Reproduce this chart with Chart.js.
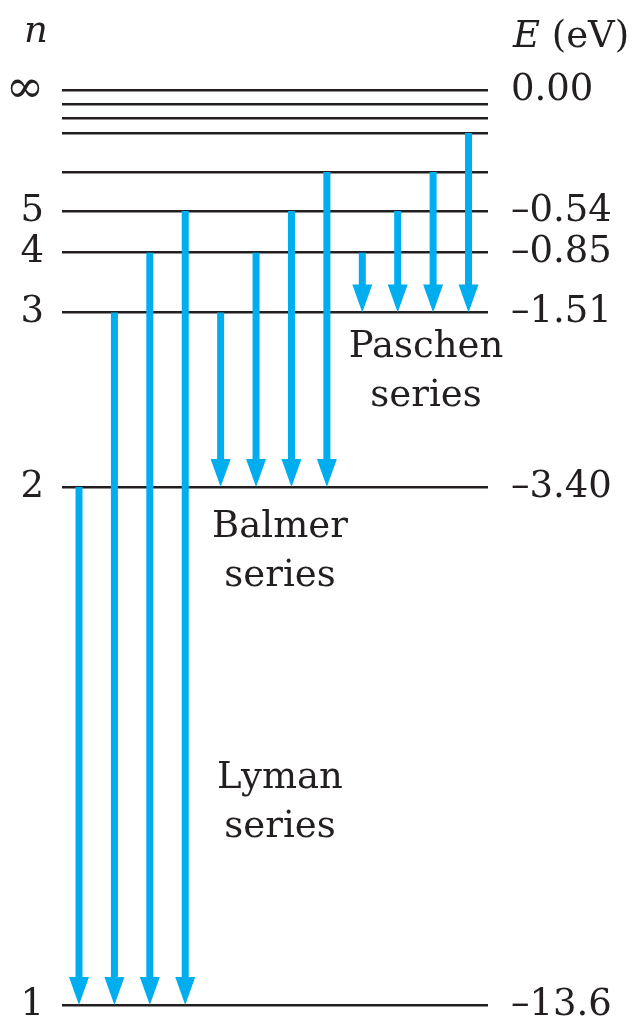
<!DOCTYPE html>
<html>
<head>
<meta charset="utf-8">
<script src="https://cdn.jsdelivr.net/npm/chart.js@4.4.1/dist/chart.umd.min.js"></script>
<style>
  html, body { margin: 0; padding: 0; background: #fff; }
</style>
</head>
<body>
<canvas id="levels" width="641" height="1024"></canvas>
<script>
// energy levels of hydrogen, n = 1..9 and infinity
const levelN = ["1", "2", "3", "4", "5", "", "", "", "", "∞"];
const levelE = [-13.6, -3.40, -1.51, -0.85, -0.54, -0.38, -0.28, -0.21, -0.17, 0.00];
const energyLabels = ["–13.6", "–3.40", "–1.51", "–0.85", "–0.54", "", "", "", "", "0.00"];

// transitions: each series drops to one lower level
const seriesNames = ["Lyman", "Balmer", "Paschen"];
const seriesLower = [1, 2, 3];
const seriesUpper = [[2, 3, 4, 5], [3, 4, 5, 6], [4, 5, 6, 7]];

const ink = "#231f20";
const arrowColor = "#00aeef";
const serif = "'DejaVu Serif', serif";

// schematic (non-linear) energy axis: piecewise between levels
class LevelScale extends Chart.LinearScale {
  levelDecimal(v) {
    const e = this.options.stops, f = this.options.fractions;
    if (v <= e[0]) return f[0];
    for (let i = 1; i < e.length; i++) {
      if (v <= e[i]) {
        return f[i - 1] + (v - e[i - 1]) / (e[i] - e[i - 1]) * (f[i] - f[i - 1]);
      }
    }
    return f[f.length - 1];
  }
  getPixelForValue(value) {
    return this.getPixelForDecimal(this.levelDecimal(value));
  }
  getValueForPixel(pixel) {
    const d = this.getDecimalForPixel(pixel);
    const e = this.options.stops, f = this.options.fractions;
    for (let i = 1; i < f.length; i++) {
      if (d <= f[i]) return e[i - 1] + (d - f[i - 1]) / (f[i] - f[i - 1]) * (e[i] - e[i - 1]);
    }
    return e[e.length - 1];
  }
}
LevelScale.id = "level";
LevelScale.defaults = Chart.LinearScale.defaults;
Chart.register(LevelScale);

// one dataset per arrow (upper level -> lower level)
const datasets = [];
let col = 0;
seriesNames.forEach((name, s) => {
  seriesUpper[s].forEach((up) => {
    datasets.push({
      label: name + " " + up + "→" + seriesLower[s],
      data: [
        { x: col, y: levelE[up - 1] },
        { x: col, y: levelE[seriesLower[s] - 1] },
      ],
      borderColor: arrowColor,
      showLine: false,
      pointRadius: 0,
    });
    col++;
  });
});

const arrowPlugin = {
  id: "arrows",
  afterDatasetsDraw(chart) {
    const ctx = chart.ctx;
    chart.data.datasets.forEach((ds, i) => {
      const pts = chart.getDatasetMeta(i).data;
      const x = pts[0].x, top = pts[0].y, tip = pts[1].y;
      const headLen = 28, headW = 20, shaft = 7;
      ctx.save();
      ctx.fillStyle = ds.borderColor;
      ctx.fillRect(x - shaft / 2, top, shaft, tip - headLen - top + 1);
      ctx.beginPath();
      ctx.moveTo(x - headW / 2, tip - headLen);
      ctx.lineTo(x + headW / 2, tip - headLen);
      ctx.lineTo(x, tip);
      ctx.closePath();
      ctx.fill();
      ctx.restore();
    });
  },
};

const textPlugin = {
  id: "texts",
  afterDraw(chart) {
    const ctx = chart.ctx;
    ctx.save();
    ctx.fillStyle = ink;
    ctx.textBaseline = "alphabetic";
    // headers
    ctx.textAlign = "left";
    ctx.font = "italic 37px " + serif;
    ctx.fillText("n", 24, 42);
    ctx.fillText("E", 513, 47);
    const eW = ctx.measureText("E ").width;
    ctx.font = "37px " + serif;
    ctx.fillText("(eV)", 513 + eW, 47);
    // series names
    ctx.textAlign = "center";
    const spots = [
      { x: 280, y: 788 },
      { x: 280, y: 537 },
      { x: 426, y: 357 },
    ];
    seriesNames.forEach((name, s) => {
      ctx.fillText(name, spots[s].x, spots[s].y);
      ctx.fillText("series", spots[s].x, spots[s].y + 49);
    });
    ctx.restore();
  },
};

const levelScale = (position, labels, pad, width, grid) => ({
  type: "level",
  position,
  min: levelE[0],
  max: levelE[levelE.length - 1],
  stops: levelE,
  fractions: [0, 0.5661, 0.7568, 0.8222, 0.8678, 0.9104, 0.953, 0.9694, 0.9847, 1],
  z: 1,
  border: { display: false },
  grid: grid
    ? { color: ink, lineWidth: 2.5, drawTicks: false }
    : { display: false, drawTicks: false },
  ticks: {
    autoSkip: false,
    padding: pad,
    color: ink,
    // the infinity sign is set a little larger, as in the figure
    font: (c) => ({ family: serif, size: labels[c.index] === "∞" ? 46 : 37, lineHeight: 1 }),
    callback: (v, idx) => labels[idx],
  },
  afterBuildTicks: (scale) => {
    scale.ticks = levelE.map((v) => ({ value: v }));
  },
  afterFit: (scale) => {
    scale.width = width;
    // labels may overflow the plot area; keep it fixed by the layout padding
    scale.paddingTop = 0;
    scale.paddingBottom = 0;
  },
});

new Chart(document.getElementById("levels"), {
  type: "scatter",
  data: { datasets },
  options: {
    responsive: false,
    animation: false,
    layout: { padding: { top: 90, bottom: 19, left: 0, right: 0 } },
    plugins: { legend: { display: false }, tooltip: { enabled: false } },
    scales: {
      x: { type: "linear", display: false, min: -0.48, max: 11.55 },
      y: levelScale("left", levelN, 18, 62, true),
      yE: levelScale("right", energyLabels, 23, 153, false),
    },
  },
  plugins: [arrowPlugin, textPlugin],
});
</script>
</body>
</html>
